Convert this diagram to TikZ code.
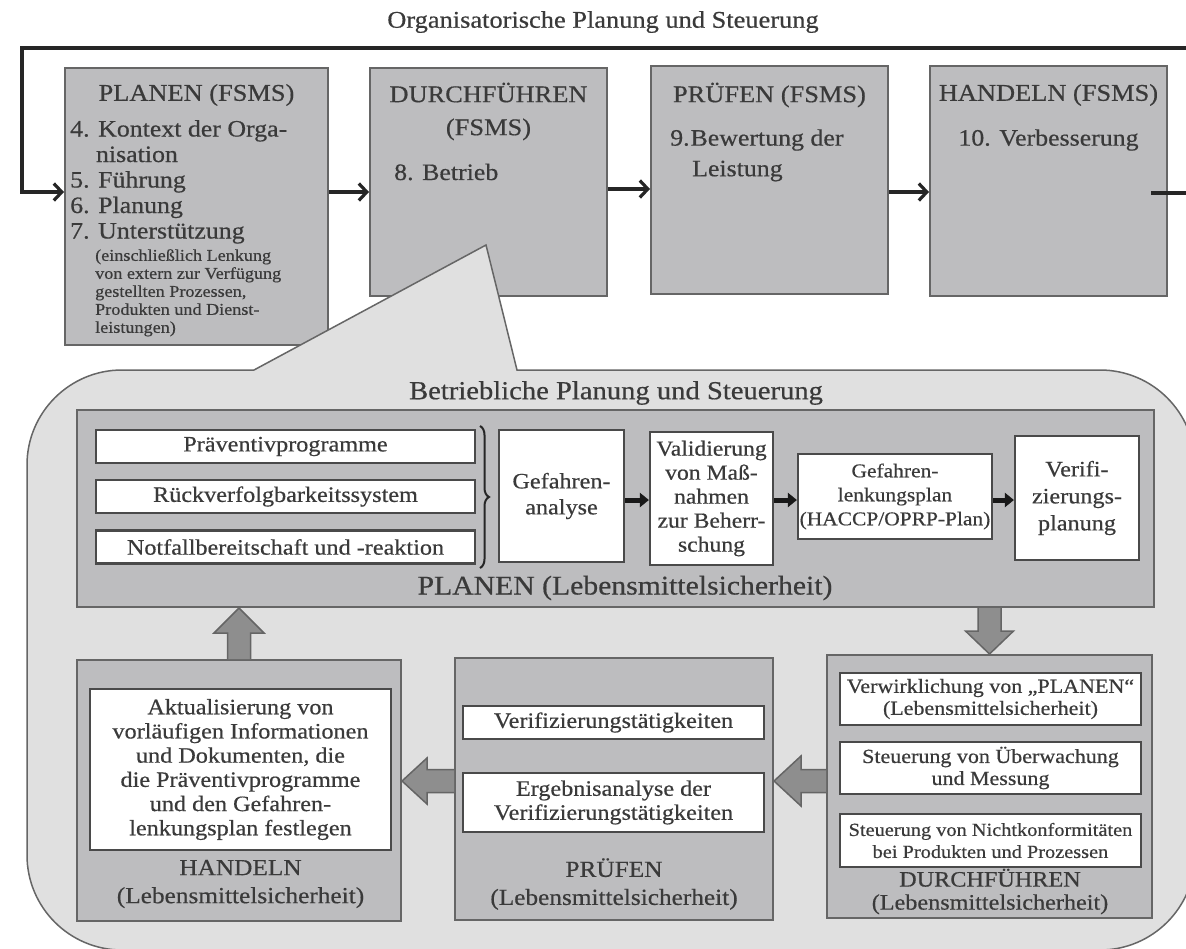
\documentclass[tikz,border=0pt]{standalone}
\usepackage{fontspec}
\setmainfont{Liberation Serif}[FakeStretch=1.1,FakeBold=0.5]
\usetikzlibrary{arrows.meta,decorations.pathreplacing,calc}
\definecolor{boxgray}{HTML}{BDBDBF}
\definecolor{callgray}{HTML}{E0E0E0}
\definecolor{edgegray}{HTML}{666666}
\definecolor{inkgray}{HTML}{3A3A3A}
\definecolor{arrowgray}{HTML}{8E8E8E}
\definecolor{wedge}{HTML}{4A4A4A}
\newcommand\fsz[2]{\fontsize{#1}{#2}\selectfont}

\begin{document}
\begin{tikzpicture}[x=1pt,y=-1pt,
  graybox/.style={draw=edgegray, fill=boxgray, line width=2pt, inner sep=0pt},
  whitebox/.style={draw=wedge, fill=white, line width=2.2pt, inner sep=0pt, align=center, text=inkgray},
  txt/.style={text=inkgray, inner sep=0pt, align=center},
  flow/.style={line width=3.5pt, draw=black!85, -{Straight Barb[length=8pt,width=17pt,line width=3.2pt]}},
  plain/.style={line width=3.5pt, draw=black!85},
  smallarr/.style={line width=5pt, draw=black!90, -{Triangle[length=9pt,width=14pt]}},
  blockarrow/.style={fill=arrowgray, draw=wedge!85, line width=1.5pt, line join=miter},
]
\clip (0,0) rectangle (1186,948);
\fill[white] (0,0) rectangle (1186,948);

% ---------- organisational PDCA cycle ----------
\node[txt, font=\fsz{24}{28}] (ttl) at (603,22) {Organisatorische Planung und Steuerung};

\node[graybox, minimum width=263, minimum height=277] (pf)  at (196.5,206.5) {};
\node[graybox, minimum width=237, minimum height=228] (df)  at (488.5,182) {};
\node[graybox, minimum width=237, minimum height=228] (prf) at (769.5,180) {};
\node[graybox, minimum width=237, minimum height=230] (hf)  at (1048.5,181) {};

\coordinate (loopL) at (22,48);
\coordinate (loopR) at (1190,48);
\coordinate (ay) at (0,192);
\coordinate (ay2) at (0,189);
\coordinate (exitR) at (1190,193);
\draw[flow] (loopR) -- (loopL) -- (loopL |- ay) -- (pf.west |- ay);
\draw[flow] (pf.east |- ay) -- (df.west |- ay);
\draw[flow] (df.east |- ay2) -- (prf.west |- ay2);
\draw[flow] (prf.east |- ay) -- (hf.west |- ay);
\draw[plain] ([xshift=-17pt]hf.east |- exitR) -- (exitR);

\node[txt, font=\fsz{24}{28}] (pftitle) at (196.5,95) {PLANEN (FSMS)};
\node[txt, align=left, anchor=north west, font=\fsz{23.5}{25.5}] (pfitems) at (70,120)
  {4. Kontext der Orga-\\\phantom{4.\ }nisation\\5. Führung\\6. Planung\\7. Unterstützung};
\node[txt, align=left, anchor=north west, font=\fsz{16.5}{18}] (pfsmall) at (95,249)
  {(einschließlich Lenkung\\von extern zur Verfügung\\gestellten Prozessen,\\Produkten und Dienst-\\leistungen)};

\node[txt, font=\fsz{24}{33}] (dftitle) at (488.5,111.5) {DURCHFÜHREN\\(FSMS)};
\node[txt, anchor=west, font=\fsz{23.5}{26}] (dfitem) at (394,172) {8. Betrieb};

\node[txt, font=\fsz{24}{28}] (prftitle) at (769.5,95) {PRÜFEN (FSMS)};
\node[txt, anchor=west, font=\fsz{23.5}{26}] (prfitem) at (670,140) {9.\kern1pt Bewertung der};
\node[txt, anchor=west, font=\fsz{23.5}{26}] (prfitemb) at (692,171) {Leistung};

\node[txt, font=\fsz{24}{28}] (hftitle) at (1048.5,95) {HANDELN (FSMS)};
\node[txt, font=\fsz{23.5}{26}] (hfitem) at (1048.5,140) {10. Verbesserung};

% ---------- callout: operational planning and control ----------
\draw[draw=edgegray, fill=callgray, line width=1.5pt]
  (254,370) -- (486,245) -- (517,370) -- (1100,370)
  arc[start angle=-90, end angle=0, radius=95] -- (1195,855)
  arc[start angle=0, end angle=90, radius=95] -- (122,950)
  arc[start angle=90, end angle=180, radius=95] -- (27,465)
  arc[start angle=180, end angle=270, radius=95] -- cycle;

\node[txt, font=\fsz{26}{30}] (betr) at (616,393) {Betriebliche Planung und Steuerung};

% PLAN (food safety)
\node[graybox, minimum width=1077, minimum height=197] (plb) at (615.5,508.5) {};
\node[txt, font=\fsz{27}{30}] (plblabel) at (625,588) {PLANEN (Lebensmittelsicherheit)};

\node[whitebox, minimum width=379, minimum height=33, font=\fsz{22}{24}] (prp) at (285.5,446.5) {Präventivprogramme};
\node[whitebox, minimum width=379, minimum height=33, font=\fsz{22}{24}] (rvs) at (285.5,496.5) {Rückverfolgbarkeitssystem};
\node[whitebox, minimum width=379, minimum height=33, font=\fsz{22}{24}] (nfb) at (285.5,547) {Notfallbereitschaft und -reaktion};
\draw[line width=2pt, black!85, decorate, decoration={brace, amplitude=9pt}] (480,426) -- (480,568);

\node[whitebox, minimum width=125, minimum height=132, font=\fsz{22}{26}] (ga) at (561.5,496) {Gefahren-\\analyse};
\node[whitebox, minimum width=123, minimum height=133, font=\fsz{21.5}{24}] (va) at (711.5,498.5) {Validierung\\von Maß-\\nahmen\\zur Beherr-\\schung};
\node[whitebox, minimum width=194, minimum height=85, font=\fsz{19.5}{24}] (glp) at (895,496.5) {Gefahren-\\lenkungsplan\\(HACCP/OPRP-Plan)};
\node[whitebox, minimum width=124, minimum height=124, font=\fsz{22}{27}] (vp) at (1077,498) {Verifi-\\zierungs-\\planung};

\coordinate (ry) at (0,500);
\draw[smallarr] (ga.east |- ry) -- (va.west |- ry);
\draw[smallarr] (va.east |- ry) -- (glp.west |- ry);
\draw[smallarr] (glp.east |- ry) -- (vp.west |- ry);

% ACT (food safety)
\node[graybox, minimum width=324, minimum height=261] (hlb) at (239,790.5) {};
\node[whitebox, minimum width=301, minimum height=161, font=\fsz{22}{24.2}] (akt) at (240.5,769.5)
  {Aktualisierung von\\vorläufigen Informationen\\und Dokumenten, die\\die Präventivprogramme\\und den Gefahren-\\lenkungsplan festlegen};
\node[txt, font=\fsz{23}{28}] (hlblabel) at (240.5,884) {HANDELN\\(Lebensmittelsicherheit)};

% CHECK (food safety)
\node[graybox, minimum width=318, minimum height=262] (plm) at (614,789) {};
\node[whitebox, minimum width=301, minimum height=33, font=\fsz{22}{24}] (vt) at (613.5,722.5) {Verifizierungstätigkeiten};
\node[whitebox, minimum width=301, minimum height=59, font=\fsz{22}{24}] (eav) at (613.5,802.5) {Ergebnisanalyse der\\Verifizierungstätigkeiten};
\node[txt, font=\fsz{23}{28}] (plmlabel) at (614,884) {PRÜFEN\\(Lebensmittelsicherheit)};

% DO (food safety)
\node[graybox, minimum width=325, minimum height=263] (dlm) at (989.5,786.5) {};
\node[whitebox, minimum width=301, minimum height=52, font=\fsz{20}{22}] (vwp) at (990.5,699) {Verwirklichung von „PLANEN“\\(Lebensmittelsicherheit)};
\node[whitebox, minimum width=301, minimum height=52, font=\fsz{20}{22}] (suem) at (990.5,768) {Steuerung von Überwachung\\und Messung};
\node[whitebox, minimum width=301, minimum height=53, font=\fsz{18.5}{22}] (snk) at (990.5,840.5) {Steuerung von Nichtkonformitäten\\bei Produkten und Prozessen};
\node[txt, font=\fsz{22}{23}] (dlmlabel) at (990,891.5) {DURCHFÜHREN\\(Lebensmittelsicherheit)};

% block arrows of the food-safety cycle
\coordinate (dA) at (plb.south -| dlm.north);
\coordinate (dB) at (dlm.north);
\draw[blockarrow] ($(dA)+(-11.5,0)$) -- ($(dB)+(-11.5,-23)$) -- ($(dB)+(-24,-23)$) -- (dB)
  -- ($(dB)+(24,-23)$) -- ($(dB)+(11.5,-23)$) -- ($(dA)+(11.5,0)$);

\coordinate (uA) at (hlb.north);
\coordinate (uB) at (plb.south -| hlb.north);
\draw[blockarrow] ($(uA)+(-11.5,0)$) -- ($(uB)+(-11.5,25)$) -- ($(uB)+(-25,25)$) -- (uB)
  -- ($(uB)+(25,25)$) -- ($(uB)+(11.5,25)$) -- ($(uA)+(11.5,0)$);

\coordinate (ly) at (0,781);
\coordinate (lA) at (plm.west |- ly);
\coordinate (lB) at (hlb.east |- ly);
\draw[blockarrow] ($(lA)+(0,-11.5)$) -- ($(lB)+(25,-11.5)$) -- ($(lB)+(25,-23)$) -- (lB)
  -- ($(lB)+(25,23)$) -- ($(lB)+(25,11.5)$) -- ($(lA)+(0,11.5)$);

\coordinate (mA) at (dlm.west |- ly);
\coordinate (mB) at (plm.east |- ly);
\draw[blockarrow] ($(mA)+(0,-11.5)$) -- ($(mB)+(27,-11.5)$) -- ($(mB)+(27,-25)$) -- (mB)
  -- ($(mB)+(27,25)$) -- ($(mB)+(27,11.5)$) -- ($(mA)+(0,11.5)$);
\end{tikzpicture}
\end{document}
